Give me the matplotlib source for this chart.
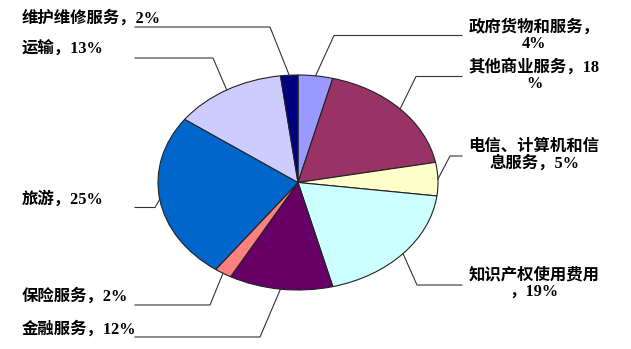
import matplotlib
matplotlib.use("Agg")
import numpy as np
import matplotlib.pyplot as plt
from matplotlib.lines import Line2D

# Service categories, clockwise from 12 o'clock
categories = ["政府货物和服务", "其他商业服务", "电信、计算机和信息服务", "知识产权使用费用",
              "金融服务", "保险服务", "旅游", "运输", "维护维修服务"]
shares = [4, 18, 5, 19, 12, 2, 25, 13, 2]
colors = ["#9999FF", "#993366", "#FFFFCC", "#CCFFFF", "#660066",
          "#FF8080", "#0066CC", "#CCCCFF", "#000080"]

W, H = 631, 349
fig = plt.figure(figsize=(W / 100, H / 100), dpi=100)
fig.patch.set_facecolor("white")

# Pie box in pixels (left, top, right, bottom); pie is drawn squashed into an ellipse
pl, pt, pr, pb = 158, 75, 438, 290
ax = fig.add_axes([pl / W, 1 - pb / H, (pr - pl) / W, (pb - pt) / H])
wedges, _ = ax.pie(shares, colors=colors, startangle=90, counterclock=False,
                   radius=1.0, wedgeprops=dict(edgecolor="#222222", linewidth=0.8))
ax.set_xlim(-1, 1)
ax.set_ylim(-1, 1)
ax.set_aspect("auto")
ax.axis("off")

font = dict(family=["Liberation Serif", "Noto Sans CJK SC"], size=11.8,
            weight="bold", color="black")


def fig_xy(px, py):
    return px / W, 1 - py / H


def wrap(text, width=8.0):
    lines, cur, n = [], "", 0.0
    for ch in text:
        w = 0.5 if ord(ch) < 0x2E80 else 1.0
        if n + w > width and cur:
            lines.append(cur)
            cur, n = "", 0.0
        cur += ch
        n += w
    lines.append(cur)
    return lines


# Label layout: side, elbow of the leader line, text anchor (pixels)
layout = {
    "政府货物和服务": ("R", (334, 35.5), (534, 27)),
    "其他商业服务": ("R", (416, 76.5), (534, 67)),
    "电信、计算机和信息服务": ("R", (450, 156), (534, 147)),
    "知识产权使用费用": ("R", (417, 285), (534, 275)),
    "金融服务": ("L", (260, 337), (22, 329)),
    "保险服务": ("L", (210, 305), (22, 296)),
    "旅游": ("L", (155, 207.5), (22, 199)),
    "运输": ("L", (213, 58), (22, 49)),
    "维护维修服务": ("L", (270, 27), (22, 18.5)),
}

to_fig = fig.transFigure.inverted()
cum = np.cumsum([0] + shares)
total = float(sum(shares))
for i, (cat, val) in enumerate(zip(categories, shares)):
    mid = np.deg2rad(90 - (cum[i] + val / 2) / total * 360)
    ax_pt = ax.transData.transform((np.cos(mid), np.sin(mid)))
    x0, y0 = to_fig.transform(ax_pt)
    side, (ex, ey), (tx, ty) = layout[cat]
    x1, y1 = fig_xy(ex, ey)
    end_px = 462 if side == "R" else 135
    x2, y2 = fig_xy(end_px, ey)
    fig.add_artist(Line2D([x0, x1, x2], [y0, y1, y2], transform=fig.transFigure,
                          color="#333333", linewidth=0.8))
    label = f"{cat}，{val}%"
    if side == "L":
        fx, fy = fig_xy(tx, ty)
        fig.text(fx, fy, label, ha="left", va="center", **font)
    else:
        for k, line in enumerate(wrap(label)):
            fx, fy = fig_xy(tx, ty + 16.5 * k)
            fig.text(fx, fy, line, ha="center", va="center", **font)

fig.savefig("out.png", dpi=100, facecolor="white")
